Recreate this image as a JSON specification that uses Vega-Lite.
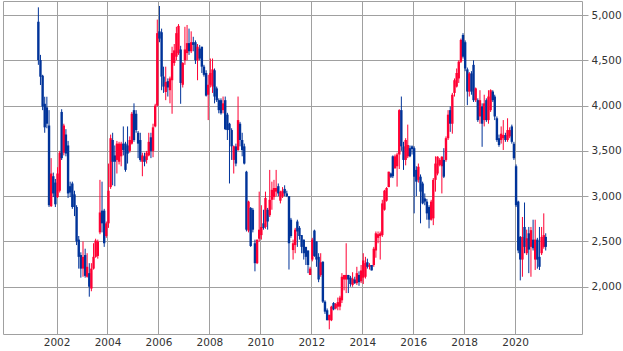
{
"$schema": "https://vega.github.io/schema/vega-lite/v6.json",
"width": 579, "height": 333,
"padding": {"left": 3, "top": 1, "right": 41, "bottom": 17},
"autosize": {"type": "none"},
"background": "white",
"config": {"view": {"stroke": "#a0a0a0", "strokeWidth": 1},
 "axis": {"labelFont": "DejaVu Sans", "labelFontSize": 10.5, "labelColor": "#333333", "gridColor": "#a0a0a0", "gridOpacity": 1, "gridWidth": 1, "domain": false}},
"data": {"values": [
{"d":"2001-04-15","o":4926,"h":5085,"l":4450,"c":4503},
{"d":"2001-05-15","o":4503,"h":4560,"l":4227,"c":4319},
{"d":"2001-06-15","o":4330,"h":4340,"l":3950,"c":3990},
{"d":"2001-07-15","o":4020,"h":4098,"l":3700,"c":3760},
{"d":"2001-08-15","o":3980,"h":4098,"l":3750,"c":3800},
{"d":"2001-09-15","o":3780,"h":3950,"l":2880,"c":2900},
{"d":"2001-10-15","o":2890,"h":3420,"l":2880,"c":3250},
{"d":"2001-11-15","o":3220,"h":3260,"l":2990,"c":3030},
{"d":"2001-12-15","o":3150,"h":3190,"l":2880,"c":2910},
{"d":"2002-01-15","o":2990,"h":3320,"l":2980,"c":3250},
{"d":"2002-02-15","o":3060,"h":3500,"l":3040,"c":3480},
{"d":"2002-03-15","o":3930,"h":3960,"l":3400,"c":3420},
{"d":"2002-04-15","o":3480,"h":3800,"l":3450,"c":3780},
{"d":"2002-05-15","o":3680,"h":3740,"l":3440,"c":3470},
{"d":"2002-06-15","o":3560,"h":3610,"l":2980,"c":3030},
{"d":"2002-07-15","o":3110,"h":3160,"l":2990,"c":3040},
{"d":"2002-08-15","o":3140,"h":3160,"l":2860,"c":2880},
{"d":"2002-09-15","o":3020,"h":3060,"l":2780,"c":2880},
{"d":"2002-10-15","o":2880,"h":2900,"l":2460,"c":2500},
{"d":"2002-11-15","o":2520,"h":2560,"l":2200,"c":2330},
{"d":"2002-12-15","o":2350,"h":2380,"l":2100,"c":2200},
{"d":"2003-01-15","o":2200,"h":2500,"l":2110,"c":2330},
{"d":"2003-02-15","o":2350,"h":2420,"l":2100,"c":2120},
{"d":"2003-03-15","o":2110,"h":2370,"l":2100,"c":2220},
{"d":"2003-04-15","o":2150,"h":2260,"l":1890,"c":2000},
{"d":"2003-05-15","o":1980,"h":2260,"l":1950,"c":2200},
{"d":"2003-06-15","o":2200,"h":2480,"l":2190,"c":2330},
{"d":"2003-07-15","o":2330,"h":2530,"l":2320,"c":2510},
{"d":"2003-08-15","o":2340,"h":2520,"l":2310,"c":2500},
{"d":"2003-09-15","o":2600,"h":3180,"l":2580,"c":2820},
{"d":"2003-10-15","o":2840,"h":3160,"l":2600,"c":2700},
{"d":"2003-11-15","o":2840,"h":2860,"l":2440,"c":2480},
{"d":"2003-12-15","o":2560,"h":2720,"l":2540,"c":2700},
{"d":"2004-01-15","o":2700,"h":3360,"l":2650,"c":3060},
{"d":"2004-02-15","o":3100,"h":3680,"l":3080,"c":3640},
{"d":"2004-03-15","o":3620,"h":3700,"l":3120,"c":3380},
{"d":"2004-04-15","o":3450,"h":3560,"l":3110,"c":3380},
{"d":"2004-05-15","o":3400,"h":3610,"l":3250,"c":3580},
{"d":"2004-06-15","o":3380,"h":3600,"l":3350,"c":3580},
{"d":"2004-07-15","o":3440,"h":3600,"l":3330,"c":3580},
{"d":"2004-08-15","o":3580,"h":3770,"l":3450,"c":3510},
{"d":"2004-09-15","o":3580,"h":3600,"l":3270,"c":3290},
{"d":"2004-10-15","o":3560,"h":3770,"l":3360,"c":3470},
{"d":"2004-11-15","o":3500,"h":3660,"l":3480,"c":3620},
{"d":"2004-12-15","o":3580,"h":3930,"l":3570,"c":3910},
{"d":"2005-01-15","o":3950,"h":4025,"l":3600,"c":3620},
{"d":"2005-02-15","o":3910,"h":3950,"l":3700,"c":3730},
{"d":"2005-03-15","o":3700,"h":3720,"l":3420,"c":3580},
{"d":"2005-04-15","o":3620,"h":3700,"l":3380,"c":3400},
{"d":"2005-05-15","o":3380,"h":3480,"l":3220,"c":3450},
{"d":"2005-06-15","o":3440,"h":3480,"l":3330,"c":3380},
{"d":"2005-07-15","o":3400,"h":3500,"l":3360,"c":3480},
{"d":"2005-08-15","o":3450,"h":3700,"l":3440,"c":3600},
{"d":"2005-09-15","o":3650,"h":3700,"l":3420,"c":3500},
{"d":"2005-10-15","o":3500,"h":3800,"l":3430,"c":3760},
{"d":"2005-11-15","o":3770,"h":4020,"l":3760,"c":4000},
{"d":"2005-12-15","o":4000,"h":4950,"l":3990,"c":4800},
{"d":"2006-01-15","o":4820,"h":5100,"l":4700,"c":4740},
{"d":"2006-02-15","o":4810,"h":4850,"l":4170,"c":4320},
{"d":"2006-03-15","o":4320,"h":4430,"l":4140,"c":4210},
{"d":"2006-04-15","o":4150,"h":4430,"l":4060,"c":4260},
{"d":"2006-05-15","o":4270,"h":4300,"l":4100,"c":4200},
{"d":"2006-06-15","o":4170,"h":4320,"l":4025,"c":4300},
{"d":"2006-07-15","o":4280,"h":4650,"l":3910,"c":4580},
{"d":"2006-08-15","o":4470,"h":4680,"l":4440,"c":4610},
{"d":"2006-09-15","o":4540,"h":4870,"l":4500,"c":4800},
{"d":"2006-10-15","o":4580,"h":4900,"l":4560,"c":4880},
{"d":"2006-11-15","o":4620,"h":4660,"l":4020,"c":4250},
{"d":"2006-12-15","o":4230,"h":4480,"l":4200,"c":4470},
{"d":"2007-01-15","o":4500,"h":4870,"l":4450,"c":4620},
{"d":"2007-02-15","o":4580,"h":4890,"l":4500,"c":4690},
{"d":"2007-03-15","o":4690,"h":4850,"l":4560,"c":4600},
{"d":"2007-04-15","o":4600,"h":4820,"l":4580,"c":4700},
{"d":"2007-05-15","o":4700,"h":4760,"l":4600,"c":4670},
{"d":"2007-06-15","o":4700,"h":4720,"l":4460,"c":4500},
{"d":"2007-07-15","o":4500,"h":4680,"l":4280,"c":4650},
{"d":"2007-08-15","o":4630,"h":4670,"l":4500,"c":4520},
{"d":"2007-09-15","o":4650,"h":4650,"l":4360,"c":4430},
{"d":"2007-10-15","o":4430,"h":4450,"l":4320,"c":4340},
{"d":"2007-11-15","o":4360,"h":4390,"l":4100,"c":4110},
{"d":"2007-12-15","o":4120,"h":4340,"l":3840,"c":4230},
{"d":"2008-01-15","o":4230,"h":4520,"l":4200,"c":4360},
{"d":"2008-02-15","o":4210,"h":4520,"l":4140,"c":4400},
{"d":"2008-03-15","o":4390,"h":4410,"l":4025,"c":4100},
{"d":"2008-04-15","o":4190,"h":4210,"l":4040,"c":4060},
{"d":"2008-05-15","o":4060,"h":4080,"l":3915,"c":3950},
{"d":"2008-06-15","o":4060,"h":4080,"l":3900,"c":3915},
{"d":"2008-07-15","o":3950,"h":4100,"l":3915,"c":4025},
{"d":"2008-08-15","o":4060,"h":4100,"l":3730,"c":3740},
{"d":"2008-09-15","o":3900,"h":3920,"l":3620,"c":3730},
{"d":"2008-10-15","o":3800,"h":3810,"l":3140,"c":3730},
{"d":"2008-11-15","o":3730,"h":3750,"l":3400,"c":3550},
{"d":"2008-12-15","o":3400,"h":3560,"l":3250,"c":3550},
{"d":"2009-01-15","o":3550,"h":3580,"l":3330,"c":3360},
{"d":"2009-02-15","o":3510,"h":4100,"l":3500,"c":3840},
{"d":"2009-03-15","o":3800,"h":3820,"l":3550,"c":3620},
{"d":"2009-04-15","o":3620,"h":3700,"l":3440,"c":3510},
{"d":"2009-05-15","o":3550,"h":3580,"l":3350,"c":3360},
{"d":"2009-06-15","o":3270,"h":3280,"l":2610,"c":2630},
{"d":"2009-07-15","o":2620,"h":2950,"l":2600,"c":2940},
{"d":"2009-08-15","o":2870,"h":2880,"l":2440,"c":2450},
{"d":"2009-09-15","o":2850,"h":2870,"l":2600,"c":2630},
{"d":"2009-10-15","o":2480,"h":2520,"l":2170,"c":2260},
{"d":"2009-11-15","o":2260,"h":2520,"l":2250,"c":2520},
{"d":"2009-12-15","o":2530,"h":3050,"l":2500,"c":2630},
{"d":"2010-01-15","o":2570,"h":2900,"l":2520,"c":2660},
{"d":"2010-02-15","o":2700,"h":2850,"l":2630,"c":2650},
{"d":"2010-03-15","o":2660,"h":3050,"l":2640,"c":2980},
{"d":"2010-04-15","o":2850,"h":2870,"l":2630,"c":2720},
{"d":"2010-05-15","o":2790,"h":3290,"l":2770,"c":2960},
{"d":"2010-06-15","o":2960,"h":3160,"l":2850,"c":3070},
{"d":"2010-07-15","o":2990,"h":3180,"l":2960,"c":3090},
{"d":"2010-08-15","o":3050,"h":3290,"l":3000,"c":3090},
{"d":"2010-09-15","o":3110,"h":3140,"l":3000,"c":3030},
{"d":"2010-10-15","o":2950,"h":3060,"l":2920,"c":3050},
{"d":"2010-11-15","o":3000,"h":3100,"l":2980,"c":3060},
{"d":"2010-12-15","o":3080,"h":3120,"l":3000,"c":3030},
{"d":"2011-01-15","o":3030,"h":3060,"l":2990,"c":3000},
{"d":"2011-02-15","o":3000,"h":3000,"l":2190,"c":2480},
{"d":"2011-03-15","o":2740,"h":2760,"l":2540,"c":2560},
{"d":"2011-04-15","o":2405,"h":2520,"l":2300,"c":2480},
{"d":"2011-05-15","o":2460,"h":2650,"l":2370,"c":2630},
{"d":"2011-06-15","o":2720,"h":2740,"l":2440,"c":2610},
{"d":"2011-07-15","o":2650,"h":2670,"l":2520,"c":2560},
{"d":"2011-08-15","o":2570,"h":2570,"l":2370,"c":2440},
{"d":"2011-09-15","o":2520,"h":2520,"l":2300,"c":2370},
{"d":"2011-10-15","o":2440,"h":2440,"l":2240,"c":2330},
{"d":"2011-11-15","o":2400,"h":2400,"l":2150,"c":2240},
{"d":"2011-12-15","o":2130,"h":2220,"l":2130,"c":2200},
{"d":"2012-01-15","o":2300,"h":2540,"l":2280,"c":2520},
{"d":"2012-02-15","o":2620,"h":2630,"l":2330,"c":2340},
{"d":"2012-03-15","o":2500,"h":2500,"l":2220,"c":2300},
{"d":"2012-04-15","o":2330,"h":2370,"l":2050,"c":2080},
{"d":"2012-05-15","o":2130,"h":2370,"l":2110,"c":2270},
{"d":"2012-06-15","o":2276,"h":2280,"l":1820,"c":1835},
{"d":"2012-07-15","o":1835,"h":1850,"l":1700,"c":1725},
{"d":"2012-08-15","o":1740,"h":1760,"l":1630,"c":1630},
{"d":"2012-09-15","o":1630,"h":1690,"l":1530,"c":1690},
{"d":"2012-10-15","o":1630,"h":1790,"l":1620,"c":1780},
{"d":"2012-11-15","o":1820,"h":1830,"l":1740,"c":1750},
{"d":"2012-12-15","o":1760,"h":1820,"l":1750,"c":1810},
{"d":"2013-01-15","o":1780,"h":1880,"l":1740,"c":1830},
{"d":"2013-02-15","o":1780,"h":1900,"l":1740,"c":1880},
{"d":"2013-03-15","o":1850,"h":2150,"l":1820,"c":2110},
{"d":"2013-04-15","o":2080,"h":2130,"l":1960,"c":2130},
{"d":"2013-05-15","o":2080,"h":2480,"l":1930,"c":2130},
{"d":"2013-06-15","o":2130,"h":2130,"l":1930,"c":2080},
{"d":"2013-07-15","o":2100,"h":2120,"l":2000,"c":2030},
{"d":"2013-08-15","o":2020,"h":2160,"l":2000,"c":2090},
{"d":"2013-09-15","o":2080,"h":2110,"l":2030,"c":2040},
{"d":"2013-10-15","o":2040,"h":2220,"l":2020,"c":2150},
{"d":"2013-11-15","o":2130,"h":2170,"l":2010,"c":2050},
{"d":"2013-12-15","o":2060,"h":2240,"l":2040,"c":2180},
{"d":"2014-01-15","o":2100,"h":2370,"l":2030,"c":2290},
{"d":"2014-02-15","o":2110,"h":2330,"l":2090,"c":2260},
{"d":"2014-03-15","o":2270,"h":2310,"l":2200,"c":2220},
{"d":"2014-04-15","o":2220,"h":2260,"l":2190,"c":2240},
{"d":"2014-05-15","o":2240,"h":2240,"l":2180,"c":2180},
{"d":"2014-06-15","o":2240,"h":2440,"l":2220,"c":2420},
{"d":"2014-07-15","o":2400,"h":2610,"l":2320,"c":2590},
{"d":"2014-08-15","o":2540,"h":2610,"l":2480,"c":2580},
{"d":"2014-09-15","o":2560,"h":2610,"l":2300,"c":2590},
{"d":"2014-10-15","o":2570,"h":2960,"l":2550,"c":2920},
{"d":"2014-11-15","o":2850,"h":3070,"l":2840,"c":3060},
{"d":"2014-12-15","o":2950,"h":3100,"l":2940,"c":3090},
{"d":"2015-01-15","o":3100,"h":3270,"l":3100,"c":3270},
{"d":"2015-02-15","o":3250,"h":3260,"l":3200,"c":3215},
{"d":"2015-03-15","o":3440,"h":3450,"l":3200,"c":3220},
{"d":"2015-04-15","o":3310,"h":3460,"l":3300,"c":3440},
{"d":"2015-05-15","o":3330,"h":3480,"l":3105,"c":3460},
{"d":"2015-06-15","o":3460,"h":3960,"l":3300,"c":3950},
{"d":"2015-07-15","o":3950,"h":4100,"l":3500,"c":3550},
{"d":"2015-08-15","o":3550,"h":3600,"l":3290,"c":3400},
{"d":"2015-09-15","o":3400,"h":3640,"l":3340,"c":3620},
{"d":"2015-10-15","o":3440,"h":3790,"l":3420,"c":3565},
{"d":"2015-11-15","o":3530,"h":3560,"l":3430,"c":3440},
{"d":"2015-12-15","o":3550,"h":3560,"l":3460,"c":3520},
{"d":"2016-01-15","o":3530,"h":3550,"l":2810,"c":3215},
{"d":"2016-02-15","o":3290,"h":3330,"l":3000,"c":3160},
{"d":"2016-03-15","o":3180,"h":3360,"l":3150,"c":3325},
{"d":"2016-04-15","o":3215,"h":3240,"l":2700,"c":3050},
{"d":"2016-05-15","o":3140,"h":3160,"l":2910,"c":2920},
{"d":"2016-06-15","o":2975,"h":3030,"l":2900,"c":2940},
{"d":"2016-07-15","o":2940,"h":2970,"l":2740,"c":2810},
{"d":"2016-08-15","o":2880,"h":2900,"l":2645,"c":2740},
{"d":"2016-09-15","o":2740,"h":2960,"l":2730,"c":2940},
{"d":"2016-10-15","o":2755,"h":3200,"l":2680,"c":3180},
{"d":"2016-11-15","o":3180,"h":3440,"l":3050,"c":3360},
{"d":"2016-12-15","o":3250,"h":3440,"l":3230,"c":3436},
{"d":"2017-01-15","o":3345,"h":3420,"l":3330,"c":3400},
{"d":"2017-02-15","o":3330,"h":3440,"l":3030,"c":3436},
{"d":"2017-03-15","o":3400,"h":3530,"l":3200,"c":3215},
{"d":"2017-04-15","o":3400,"h":3660,"l":3380,"c":3640},
{"d":"2017-05-15","o":3640,"h":3950,"l":3620,"c":3900},
{"d":"2017-06-15","o":3950,"h":3990,"l":3710,"c":3800},
{"d":"2017-07-15","o":3800,"h":4140,"l":3690,"c":4120},
{"d":"2017-08-15","o":4140,"h":4300,"l":4100,"c":4280},
{"d":"2017-09-15","o":4210,"h":4410,"l":4200,"c":4360},
{"d":"2017-10-15","o":4300,"h":4500,"l":4250,"c":4485},
{"d":"2017-11-15","o":4485,"h":4740,"l":4470,"c":4725},
{"d":"2017-12-15","o":4780,"h":4800,"l":4520,"c":4540},
{"d":"2018-01-15","o":4700,"h":4720,"l":4380,"c":4410},
{"d":"2018-02-15","o":4400,"h":4420,"l":4005,"c":4155},
{"d":"2018-03-15","o":4155,"h":4370,"l":4100,"c":4355},
{"d":"2018-04-15","o":4355,"h":4380,"l":4120,"c":4155},
{"d":"2018-05-15","o":4450,"h":4500,"l":4040,"c":4060},
{"d":"2018-06-15","o":4060,"h":4200,"l":4040,"c":4190},
{"d":"2018-07-15","o":4060,"h":4080,"l":3820,"c":3840},
{"d":"2018-08-15","o":3880,"h":4170,"l":3800,"c":4060},
{"d":"2018-09-15","o":3990,"h":4025,"l":3545,"c":3800},
{"d":"2018-10-15","o":3840,"h":4120,"l":3770,"c":4025},
{"d":"2018-11-15","o":4060,"h":4080,"l":3820,"c":3840},
{"d":"2018-12-15","o":3840,"h":4170,"l":3800,"c":4100},
{"d":"2019-01-15","o":3950,"h":4180,"l":3930,"c":4170},
{"d":"2019-02-15","o":4155,"h":4170,"l":4040,"c":4060},
{"d":"2019-03-15","o":4100,"h":4120,"l":3840,"c":3880},
{"d":"2019-04-15","o":3860,"h":3880,"l":3600,"c":3620},
{"d":"2019-05-15","o":3640,"h":3680,"l":3545,"c":3565},
{"d":"2019-06-15","o":3620,"h":3770,"l":3580,"c":3690},
{"d":"2019-07-15","o":3640,"h":3840,"l":3510,"c":3675},
{"d":"2019-08-15","o":3675,"h":3700,"l":3600,"c":3620},
{"d":"2019-09-15","o":3620,"h":3860,"l":3600,"c":3730},
{"d":"2019-10-15","o":3660,"h":3760,"l":3640,"c":3730},
{"d":"2019-11-15","o":3770,"h":3790,"l":3580,"c":3600},
{"d":"2019-12-15","o":3580,"h":3600,"l":3400,"c":3420},
{"d":"2020-01-15","o":3330,"h":3350,"l":2880,"c":2900},
{"d":"2020-02-15","o":2940,"h":2950,"l":2370,"c":2400},
{"d":"2020-03-15","o":2550,"h":2560,"l":2070,"c":2300},
{"d":"2020-04-15","o":2300,"h":2770,"l":2110,"c":2550},
{"d":"2020-05-15","o":2660,"h":2930,"l":2370,"c":2440},
{"d":"2020-06-15","o":2370,"h":2630,"l":2350,"c":2535},
{"d":"2020-07-15","o":2590,"h":2660,"l":2150,"c":2410},
{"d":"2020-08-15","o":2440,"h":2660,"l":2110,"c":2625},
{"d":"2020-09-15","o":2520,"h":2740,"l":2400,"c":2425},
{"d":"2020-10-15","o":2300,"h":2740,"l":2185,"c":2520},
{"d":"2020-11-15","o":2520,"h":2540,"l":2200,"c":2300},
{"d":"2020-12-15","o":2330,"h":2660,"l":2185,"c":2220},
{"d":"2021-01-15","o":2370,"h":2660,"l":2350,"c":2550},
{"d":"2021-02-15","o":2440,"h":2810,"l":2420,"c":2570},
{"d":"2021-03-15","o":2550,"h":2590,"l":2400,"c":2440}
]},
"encoding": {
 "x": {"field": "d", "type": "temporal",
  "scale": {"domain": [{"year": 1999, "month": 11, "date": 25}, {"year": 2022, "month": 8, "date": 17}], "nice": false, "padding": 0},
  "axis": {"title": null, "format": "%Y", "ticks": false, "labelPadding": 3, "grid": true,
   "values": [{"year": 2002}, {"year": 2004}, {"year": 2006}, {"year": 2008}, {"year": 2010}, {"year": 2012}, {"year": 2014}, {"year": 2016}, {"year": 2018}, {"year": 2020}]}},
 "color": {"condition": {"test": "datum.c > datum.o", "value": "#ff0033"}, "value": "#003399"}
},
"layer": [
 {"mark": {"type": "rule", "strokeWidth": 1},
  "encoding": {
   "y": {"field": "l", "type": "quantitative",
    "scale": {"domain": [1478, 5155], "zero": false, "nice": false, "padding": 0},
    "axis": {"title": null, "orient": "right", "values": [2000, 2500, 3000, 3500, 4000, 4500, 5000], "format": ",d", "tickSize": 6, "tickColor": "#a0a0a0", "labelPadding": 3, "grid": true}},
   "y2": {"field": "h"}}},
 {"mark": {"type": "bar", "width": 2.4},
  "encoding": {
   "y": {"field": "o", "type": "quantitative"},
   "y2": {"field": "c"}}}
]
}
